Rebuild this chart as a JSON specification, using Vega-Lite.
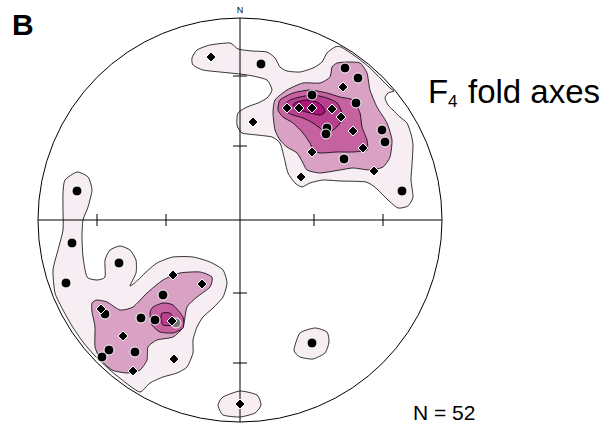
{
"$schema": "https://vega.github.io/schema/vega-lite/v6.json",
"width": 609, "height": 426, "autosize": "none", "padding": 0,
"background": "white",
"config": {"view": {"stroke": null}},
"datasets": {
"contours": [
{"p":"a1","l":1,"i":0,"x":-48,"y":162},{"p":"a1","l":1,"i":1,"x":-43,"y":170},{"p":"a1","l":1,"i":2,"x":-30,"y":175},{"p":"a1","l":1,"i":3,"x":-10,"y":177},{"p":"a1","l":1,"i":4,"x":-2,"y":171},{"p":"a1","l":1,"i":5,"x":12,"y":169},{"p":"a1","l":1,"i":6,"x":27,"y":168},{"p":"a1","l":1,"i":7,"x":35,"y":162},{"p":"a1","l":1,"i":8,"x":40,"y":153},{"p":"a1","l":1,"i":9,"x":47,"y":149},{"p":"a1","l":1,"i":10,"x":60,"y":148},{"p":"a1","l":1,"i":11,"x":73,"y":152},{"p":"a1","l":1,"i":12,"x":82,"y":158},{"p":"a1","l":1,"i":13,"x":87,"y":167},{"p":"a1","l":1,"i":14,"x":95,"y":173},{"p":"a1","l":1,"i":15,"x":101,"y":173},{"p":"a1","l":1,"i":16,"x":115,"y":164},{"p":"a1","l":1,"i":17,"x":129,"y":153},{"p":"a1","l":1,"i":18,"x":141,"y":141},{"p":"a1","l":1,"i":19,"x":150,"y":132},{"p":"a1","l":1,"i":20,"x":154,"y":129},{"p":"a1","l":1,"i":21,"x":148,"y":127},{"p":"a1","l":1,"i":22,"x":145,"y":122},{"p":"a1","l":1,"i":23,"x":148,"y":115},{"p":"a1","l":1,"i":24,"x":153,"y":110},{"p":"a1","l":1,"i":25,"x":160,"y":103},{"p":"a1","l":1,"i":26,"x":167,"y":97},{"p":"a1","l":1,"i":27,"x":171,"y":86},{"p":"a1","l":1,"i":28,"x":173,"y":75},{"p":"a1","l":1,"i":29,"x":172,"y":55},{"p":"a1","l":1,"i":30,"x":171,"y":40},{"p":"a1","l":1,"i":31,"x":173,"y":23},{"p":"a1","l":1,"i":32,"x":168,"y":14},{"p":"a1","l":1,"i":33,"x":158,"y":12},{"p":"a1","l":1,"i":34,"x":148,"y":20},{"p":"a1","l":1,"i":35,"x":137,"y":31},{"p":"a1","l":1,"i":36,"x":126,"y":38},{"p":"a1","l":1,"i":37,"x":100,"y":39},{"p":"a1","l":1,"i":38,"x":83,"y":40},{"p":"a1","l":1,"i":39,"x":70,"y":37},{"p":"a1","l":1,"i":40,"x":62,"y":33},{"p":"a1","l":1,"i":41,"x":55,"y":37},{"p":"a1","l":1,"i":42,"x":48,"y":47},{"p":"a1","l":1,"i":43,"x":44,"y":63},{"p":"a1","l":1,"i":44,"x":40,"y":77},{"p":"a1","l":1,"i":45,"x":32,"y":83},{"p":"a1","l":1,"i":46,"x":17,"y":85},{"p":"a1","l":1,"i":47,"x":2,"y":87},{"p":"a1","l":1,"i":48,"x":-3,"y":95},{"p":"a1","l":1,"i":49,"x":-2,"y":107},{"p":"a1","l":1,"i":50,"x":7,"y":113},{"p":"a1","l":1,"i":51,"x":18,"y":117},{"p":"a1","l":1,"i":52,"x":27,"y":122},{"p":"a1","l":1,"i":53,"x":32,"y":130},{"p":"a1","l":1,"i":54,"x":27,"y":140},{"p":"a1","l":1,"i":55,"x":13,"y":144},{"p":"a1","l":1,"i":56,"x":0,"y":146},{"p":"a1","l":1,"i":57,"x":-20,"y":148},{"p":"a1","l":1,"i":58,"x":-37,"y":150},{"p":"a1","l":1,"i":59,"x":-47,"y":155},
{"p":"b1","l":1,"i":0,"x":-175,"y":40},{"p":"b1","l":1,"i":1,"x":-163,"y":48},{"p":"b1","l":1,"i":2,"x":-152,"y":43},{"p":"b1","l":1,"i":3,"x":-148,"y":30},{"p":"b1","l":1,"i":4,"x":-152,"y":13},{"p":"b1","l":1,"i":5,"x":-157,"y":0},{"p":"b1","l":1,"i":6,"x":-158,"y":-17},{"p":"b1","l":1,"i":7,"x":-157,"y":-37},{"p":"b1","l":1,"i":8,"x":-153,"y":-57},{"p":"b1","l":1,"i":9,"x":-143,"y":-60},{"p":"b1","l":1,"i":10,"x":-135,"y":-57},{"p":"b1","l":1,"i":11,"x":-135,"y":-40},{"p":"b1","l":1,"i":12,"x":-130,"y":-30},{"p":"b1","l":1,"i":13,"x":-120,"y":-26},{"p":"b1","l":1,"i":14,"x":-110,"y":-30},{"p":"b1","l":1,"i":15,"x":-104,"y":-40},{"p":"b1","l":1,"i":16,"x":-104,"y":-53},{"p":"b1","l":1,"i":17,"x":-110,"y":-66},{"p":"b1","l":1,"i":18,"x":-102,"y":-60},{"p":"b1","l":1,"i":19,"x":-95,"y":-53},{"p":"b1","l":1,"i":20,"x":-83,"y":-43},{"p":"b1","l":1,"i":21,"x":-67,"y":-37},{"p":"b1","l":1,"i":22,"x":-47,"y":-37},{"p":"b1","l":1,"i":23,"x":-30,"y":-42},{"p":"b1","l":1,"i":24,"x":-17,"y":-50},{"p":"b1","l":1,"i":25,"x":-13,"y":-63},{"p":"b1","l":1,"i":26,"x":-17,"y":-77},{"p":"b1","l":1,"i":27,"x":-27,"y":-88},{"p":"b1","l":1,"i":28,"x":-37,"y":-97},{"p":"b1","l":1,"i":29,"x":-43,"y":-107},{"p":"b1","l":1,"i":30,"x":-47,"y":-120},{"p":"b1","l":1,"i":31,"x":-47,"y":-133},{"p":"b1","l":1,"i":32,"x":-53,"y":-147},{"p":"b1","l":1,"i":33,"x":-63,"y":-153},{"p":"b1","l":1,"i":34,"x":-77,"y":-157},{"p":"b1","l":1,"i":35,"x":-90,"y":-163},{"p":"b1","l":1,"i":36,"x":-100,"y":-172},{"p":"b1","l":1,"i":37,"x":-114,"y":-163},{"p":"b1","l":1,"i":38,"x":-130,"y":-150},{"p":"b1","l":1,"i":39,"x":-145,"y":-136},{"p":"b1","l":1,"i":40,"x":-157,"y":-122},{"p":"b1","l":1,"i":41,"x":-168,"y":-106},{"p":"b1","l":1,"i":42,"x":-177,"y":-90},{"p":"b1","l":1,"i":43,"x":-185,"y":-73},{"p":"b1","l":1,"i":44,"x":-187,"y":-50},{"p":"b1","l":1,"i":45,"x":-182,"y":-30},{"p":"b1","l":1,"i":46,"x":-177,"y":-10},{"p":"b1","l":1,"i":47,"x":-177,"y":10},{"p":"b1","l":1,"i":48,"x":-177,"y":27},
{"p":"c1","l":1,"i":0,"x":54,"y":-130},{"p":"c1","l":1,"i":1,"x":60,"y":-113},{"p":"c1","l":1,"i":2,"x":75,"y":-108},{"p":"c1","l":1,"i":3,"x":87,"y":-112},{"p":"c1","l":1,"i":4,"x":89,"y":-122},{"p":"c1","l":1,"i":5,"x":85,"y":-133},{"p":"c1","l":1,"i":6,"x":73,"y":-139},{"p":"c1","l":1,"i":7,"x":60,"y":-137},
{"p":"d1","l":1,"i":0,"x":-22,"y":-185},{"p":"d1","l":1,"i":1,"x":-17,"y":-177},{"p":"d1","l":1,"i":2,"x":0,"y":-171},{"p":"d1","l":1,"i":3,"x":17,"y":-175},{"p":"d1","l":1,"i":4,"x":21,"y":-185},{"p":"d1","l":1,"i":5,"x":15,"y":-193},{"p":"d1","l":1,"i":6,"x":0,"y":-197},{"p":"d1","l":1,"i":7,"x":-17,"y":-195},
{"p":"a2","l":2,"i":0,"x":97,"y":157},{"p":"a2","l":2,"i":1,"x":107,"y":158},{"p":"a2","l":2,"i":2,"x":120,"y":157},{"p":"a2","l":2,"i":3,"x":127,"y":147},{"p":"a2","l":2,"i":4,"x":130,"y":130},{"p":"a2","l":2,"i":5,"x":137,"y":113},{"p":"a2","l":2,"i":6,"x":147,"y":97},{"p":"a2","l":2,"i":7,"x":152,"y":80},{"p":"a2","l":2,"i":8,"x":150,"y":63},{"p":"a2","l":2,"i":9,"x":143,"y":53},{"p":"a2","l":2,"i":10,"x":130,"y":50},{"p":"a2","l":2,"i":11,"x":113,"y":52},{"p":"a2","l":2,"i":12,"x":100,"y":50},{"p":"a2","l":2,"i":13,"x":80,"y":47},{"p":"a2","l":2,"i":14,"x":67,"y":50},{"p":"a2","l":2,"i":15,"x":63,"y":57},{"p":"a2","l":2,"i":16,"x":57,"y":67},{"p":"a2","l":2,"i":17,"x":47,"y":73},{"p":"a2","l":2,"i":18,"x":40,"y":80},{"p":"a2","l":2,"i":19,"x":35,"y":90},{"p":"a2","l":2,"i":20,"x":33,"y":107},{"p":"a2","l":2,"i":21,"x":35,"y":120},{"p":"a2","l":2,"i":22,"x":47,"y":130},{"p":"a2","l":2,"i":23,"x":63,"y":137},{"p":"a2","l":2,"i":24,"x":80,"y":137},{"p":"a2","l":2,"i":25,"x":90,"y":143},{"p":"a2","l":2,"i":26,"x":92,"y":153},
{"p":"b2","l":2,"i":0,"x":-148,"y":-83},{"p":"b2","l":2,"i":1,"x":-143,"y":-80},{"p":"b2","l":2,"i":2,"x":-133,"y":-82},{"p":"b2","l":2,"i":3,"x":-120,"y":-90},{"p":"b2","l":2,"i":4,"x":-107,"y":-87},{"p":"b2","l":2,"i":5,"x":-93,"y":-73},{"p":"b2","l":2,"i":6,"x":-77,"y":-60},{"p":"b2","l":2,"i":7,"x":-60,"y":-53},{"p":"b2","l":2,"i":8,"x":-40,"y":-52},{"p":"b2","l":2,"i":9,"x":-28,"y":-57},{"p":"b2","l":2,"i":10,"x":-30,"y":-67},{"p":"b2","l":2,"i":11,"x":-43,"y":-77},{"p":"b2","l":2,"i":12,"x":-53,"y":-87},{"p":"b2","l":2,"i":13,"x":-57,"y":-107},{"p":"b2","l":2,"i":14,"x":-67,"y":-117},{"p":"b2","l":2,"i":15,"x":-83,"y":-120},{"p":"b2","l":2,"i":16,"x":-92,"y":-127},{"p":"b2","l":2,"i":17,"x":-93,"y":-140},{"p":"b2","l":2,"i":18,"x":-100,"y":-150},{"p":"b2","l":2,"i":19,"x":-113,"y":-153},{"p":"b2","l":2,"i":20,"x":-128,"y":-150},{"p":"b2","l":2,"i":21,"x":-139,"y":-140},{"p":"b2","l":2,"i":22,"x":-145,"y":-127},{"p":"b2","l":2,"i":23,"x":-145,"y":-107},{"p":"b2","l":2,"i":24,"x":-148,"y":-92},
{"p":"a3","l":3,"i":0,"x":40,"y":120},{"p":"a3","l":3,"i":1,"x":53,"y":127},{"p":"a3","l":3,"i":2,"x":70,"y":130},{"p":"a3","l":3,"i":3,"x":87,"y":127},{"p":"a3","l":3,"i":4,"x":100,"y":123},{"p":"a3","l":3,"i":5,"x":113,"y":120},{"p":"a3","l":3,"i":6,"x":120,"y":107},{"p":"a3","l":3,"i":7,"x":122,"y":93},{"p":"a3","l":3,"i":8,"x":127,"y":80},{"p":"a3","l":3,"i":9,"x":127,"y":70},{"p":"a3","l":3,"i":10,"x":113,"y":68},{"p":"a3","l":3,"i":11,"x":97,"y":68},{"p":"a3","l":3,"i":12,"x":80,"y":67},{"p":"a3","l":3,"i":13,"x":73,"y":70},{"p":"a3","l":3,"i":14,"x":70,"y":77},{"p":"a3","l":3,"i":15,"x":63,"y":87},{"p":"a3","l":3,"i":16,"x":53,"y":97},{"p":"a3","l":3,"i":17,"x":43,"y":103},{"p":"a3","l":3,"i":18,"x":38,"y":110},
{"p":"b3","l":3,"i":0,"x":-90,"y":-93},{"p":"b3","l":3,"i":1,"x":-87,"y":-87},{"p":"b3","l":3,"i":2,"x":-77,"y":-83},{"p":"b3","l":3,"i":3,"x":-67,"y":-85},{"p":"b3","l":3,"i":4,"x":-57,"y":-97},{"p":"b3","l":3,"i":5,"x":-57,"y":-108},{"p":"b3","l":3,"i":6,"x":-67,"y":-113},{"p":"b3","l":3,"i":7,"x":-80,"y":-112},{"p":"b3","l":3,"i":8,"x":-88,"y":-105},
{"p":"a4","l":4,"i":0,"x":45,"y":115},{"p":"a4","l":4,"i":1,"x":50,"y":120},{"p":"a4","l":4,"i":2,"x":60,"y":123},{"p":"a4","l":4,"i":3,"x":73,"y":125},{"p":"a4","l":4,"i":4,"x":87,"y":122},{"p":"a4","l":4,"i":5,"x":97,"y":117},{"p":"a4","l":4,"i":6,"x":102,"y":107},{"p":"a4","l":4,"i":7,"x":100,"y":97},{"p":"a4","l":4,"i":8,"x":93,"y":90},{"p":"a4","l":4,"i":9,"x":83,"y":90},{"p":"a4","l":4,"i":10,"x":73,"y":97},{"p":"a4","l":4,"i":11,"x":63,"y":102},{"p":"a4","l":4,"i":12,"x":53,"y":105},{"p":"a4","l":4,"i":13,"x":47,"y":108},
{"p":"b4","l":4,"i":0,"x":-78,"y":-93},{"p":"b4","l":4,"i":1,"x":-70,"y":-93},{"p":"b4","l":4,"i":2,"x":-67,"y":-98},{"p":"b4","l":4,"i":3,"x":-68,"y":-105},{"p":"b4","l":4,"i":4,"x":-77,"y":-105},{"p":"b4","l":4,"i":5,"x":-79,"y":-98},
{"p":"a5","l":5,"i":0,"x":53,"y":115},{"p":"a5","l":5,"i":1,"x":57,"y":118},{"p":"a5","l":5,"i":2,"x":67,"y":120},{"p":"a5","l":5,"i":3,"x":77,"y":118},{"p":"a5","l":5,"i":4,"x":83,"y":113},{"p":"a5","l":5,"i":5,"x":85,"y":108},{"p":"a5","l":5,"i":6,"x":80,"y":105},{"p":"a5","l":5,"i":7,"x":70,"y":107},{"p":"a5","l":5,"i":8,"x":60,"y":110}
],
"points": [
{"k":"diamond","x":-29,"y":163},{"k":"diamond","x":103,"y":133},{"k":"diamond","x":47,"y":112},{"k":"diamond","x":59,"y":112},{"k":"diamond","x":72,"y":112},{"k":"diamond","x":92,"y":111},{"k":"diamond","x":101,"y":103},{"k":"diamond","x":113,"y":89},{"k":"diamond","x":72,"y":68},{"k":"diamond","x":123,"y":72},{"k":"diamond","x":134,"y":49},{"k":"diamond","x":61,"y":43},{"k":"diamond","x":13,"y":98},
{"k":"circle","x":21,"y":156},{"k":"circle","x":105,"y":152},{"k":"circle","x":118,"y":142},{"k":"circle","x":72,"y":125},{"k":"circle","x":116,"y":117},{"k":"circle","x":87,"y":92},{"k":"circle","x":86,"y":86},{"k":"circle","x":142,"y":90},{"k":"circle","x":145,"y":78},{"k":"circle","x":104,"y":61},{"k":"circle","x":162,"y":29},
{"k":"circle","x":-163,"y":29},{"k":"circle","x":-168,"y":-23},{"k":"circle","x":-121,"y":-43},{"k":"circle","x":-174,"y":-63},{"k":"circle","x":-77,"y":-75},{"k":"circle","x":-99,"y":-98},{"k":"circle","x":-85,"y":-100},{"k":"circle","x":-131,"y":-130},{"k":"circle","x":-138,"y":-137},{"k":"circle","x":-105,"y":-132},{"k":"circle","x":-135,"y":-94},{"k":"circle","x":72,"y":-123},
{"k":"diamond","x":-67,"y":-55},{"k":"diamond","x":-38,"y":-64},{"k":"diamond","x":-139,"y":-89},{"k":"diamond","x":-117,"y":-116},{"k":"hatched","x":-64,"y":-103},{"k":"diamond","x":-68,"y":-101},{"k":"diamond","x":-66,"y":-139},{"k":"diamond","x":-107,"y":-151},{"k":"diamond","x":0,"y":-184}
],
"lines": [
{"x":-202,"y":0,"x2":202,"y2":0},{"x":0,"y":202,"x2":0,"y2":-202},
{"x":-143,"y":-6,"x2":-143,"y2":6},{"x":-74,"y":-6,"x2":-74,"y2":6},{"x":74,"y":-6,"x2":74,"y2":6},{"x":143,"y":-6,"x2":143,"y2":6},
{"x":-7,"y":144,"x2":7,"y2":144},{"x":-7,"y":74,"x2":7,"y2":74},{"x":-7,"y":-73,"x2":7,"y2":-73},{"x":-7,"y":-143,"x2":7,"y2":-143}
]
},
"encoding": {
"x": {"field": "x", "type": "quantitative", "scale": {"domain": [-240, 369], "nice": false, "zero": false}, "axis": null},
"y": {"field": "y", "type": "quantitative", "scale": {"domain": [-206, 220], "nice": false, "zero": false}, "axis": null}
},
"layer": [
{"data": {"name": "contours"}, "transform": [{"filter": "datum.l == 1"}],
 "mark": {"type": "line", "interpolate": "cardinal-closed", "tension": 0.4, "fill": "#f6eef3", "stroke": "#000", "strokeWidth": 0.8},
 "encoding": {"detail": {"field": "p"}, "order": {"field": "i", "type": "quantitative"}}},
{"data": {"name": "contours"}, "transform": [{"filter": "datum.l == 2"}],
 "mark": {"type": "line", "interpolate": "cardinal-closed", "tension": 0.4, "fill": "#d9a2c4", "stroke": "#000", "strokeWidth": 0.8},
 "encoding": {"detail": {"field": "p"}, "order": {"field": "i", "type": "quantitative"}}},
{"data": {"name": "contours"}, "transform": [{"filter": "datum.l == 3"}],
 "mark": {"type": "line", "interpolate": "cardinal-closed", "tension": 0.4, "fill": "#c5629f", "stroke": "#000", "strokeWidth": 0.8},
 "encoding": {"detail": {"field": "p"}, "order": {"field": "i", "type": "quantitative"}}},
{"data": {"name": "contours"}, "transform": [{"filter": "datum.l == 4"}],
 "mark": {"type": "line", "interpolate": "cardinal-closed", "tension": 0.4, "fill": "#b8408f", "stroke": "#000", "strokeWidth": 0.8},
 "encoding": {"detail": {"field": "p"}, "order": {"field": "i", "type": "quantitative"}}},
{"data": {"name": "contours"}, "transform": [{"filter": "datum.l == 5"}],
 "mark": {"type": "line", "interpolate": "cardinal-closed", "tension": 0.4, "fill": "#ae1479", "stroke": "#000", "strokeWidth": 0.8},
 "encoding": {"detail": {"field": "p"}, "order": {"field": "i", "type": "quantitative"}}},
{"data": {"name": "lines"},
 "mark": {"type": "rule", "stroke": "#000", "strokeWidth": 1},
 "encoding": {"x2": {"field": "x2"}, "y2": {"field": "y2"}}},
{"data": {"values": [{"x": 0, "y": 0}]},
 "mark": {"type": "point", "shape": "circle", "filled": false, "size": 163216, "stroke": "#000", "strokeWidth": 1, "opacity": 1}},
{"data": {"name": "points"},
 "mark": {"type": "point", "filled": true, "stroke": "#fff", "strokeWidth": 1, "opacity": 1},
 "encoding": {
   "shape": {"field": "k", "type": "nominal", "scale": {"domain": ["circle", "diamond", "hatched"], "range": ["circle", "diamond", "circle"]}, "legend": null},
   "fill": {"field": "k", "type": "nominal", "scale": {"domain": ["circle", "diamond", "hatched"], "range": ["#000", "#000", "#777"]}, "legend": null},
   "size": {"field": "k", "type": "nominal", "scale": {"domain": ["circle", "diamond", "hatched"], "range": [100, 100, 100]}, "legend": null}
 }},
{"data": {"values": [{"t": "B", "x": -228, "y": 185}]},
 "mark": {"type": "text", "align": "left", "baseline": "alphabetic", "font": "Liberation Sans", "fontSize": 30, "fontWeight": "bold", "color": "#000"},
 "encoding": {"text": {"field": "t"}}},
{"data": {"values": [{"t": "F", "x": 188, "y": 117}, {"t": "fold axes", "x": 228, "y": 117}]},
 "mark": {"type": "text", "align": "left", "baseline": "alphabetic", "font": "Liberation Sans", "fontSize": 33, "color": "#000"},
 "encoding": {"text": {"field": "t"}}},
{"data": {"values": [{"t": "4", "x": 208, "y": 113}]},
 "mark": {"type": "text", "align": "left", "baseline": "alphabetic", "font": "Liberation Sans", "fontSize": 17, "color": "#000"},
 "encoding": {"text": {"field": "t"}}},
{"data": {"values": [{"t": "N = 52", "x": 173, "y": -200}]},
 "mark": {"type": "text", "align": "left", "baseline": "alphabetic", "font": "Liberation Sans", "fontSize": 21, "color": "#000"},
 "encoding": {"text": {"field": "t"}}},
{"data": {"values": [{"t": "N", "x": 0, "y": 207}]},
 "mark": {"type": "text", "align": "center", "baseline": "alphabetic", "font": "Liberation Sans", "fontSize": 9, "color": "#000"},
 "encoding": {"text": {"field": "t"}}}
]
}
